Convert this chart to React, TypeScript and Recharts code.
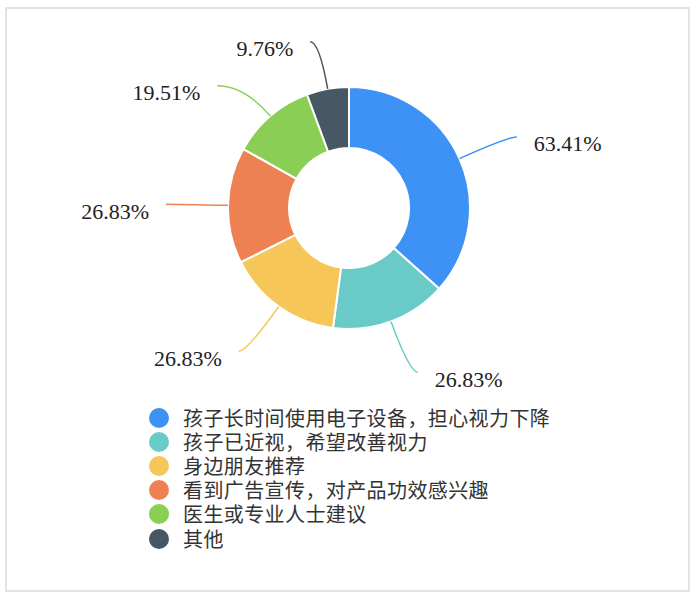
import React from "react"
import { PieChart, Pie, Cell } from "recharts"

const reasons = [
  "孩子长时间使用电子设备，担心视力下降",
  "孩子已近视，希望改善视力",
  "身边朋友推荐",
  "看到广告宣传，对产品功效感兴趣",
  "医生或专业人士建议",
  "其他",
]
const percents = [63.41, 26.83, 26.83, 26.83, 19.51, 9.76]
const colors = ["#3f92f5", "#6acac8", "#f6c758", "#ee8152", "#8bce55", "#475763"]

// label line lengths (radial part, horizontal part)
const lineOut = [53, 54, 55, 53, 40, 48]
const lineSide = [9, 8, 8, 9, 27, 9]

const data = reasons.map((name, i) => ({ name, value: percents[i] }))

const RAD = Math.PI / 180

function renderLabel(props: any) {
  const { cx, cy, midAngle, outerRadius, index, value } = props
  const cos = Math.cos(-midAngle * RAD)
  const sin = Math.sin(-midAngle * RAD)
  const sx = cx + outerRadius * cos
  const sy = cy + outerRadius * sin
  const mx = cx + (outerRadius + lineOut[index]) * cos
  const my = cy + (outerRadius + lineOut[index]) * sin
  const dir = cos >= 0 ? 1 : -1
  const ex = mx + dir * lineSide[index]
  const ey = my
  return (
    <g key={`lbl-${index}`}>
      <path
        d={`M${sx},${sy} Q${mx},${my} ${ex},${ey}`}
        stroke={colors[index]}
        strokeWidth={1.5}
        fill="none"
      />
      <text
        x={ex + dir * 17}
        y={ey + 7}
        textAnchor={dir > 0 ? "start" : "end"}
        dominantBaseline="central"
        fontFamily="'Liberation Serif', 'Times New Roman', serif"
        fontSize={22}
        fill="#222"
      >
        {`${value.toFixed(2)}%`}
      </text>
    </g>
  )
}

function LegendList() {
  return (
    <div
      style={{
        position: "absolute",
        left: 149,
        top: 406,
        fontFamily: "'Noto Sans CJK SC', sans-serif",
        fontSize: 20,
        color: "#333",
      }}
    >
      {reasons.map((name, i) => (
        <div key={name} style={{ display: "flex", alignItems: "center", height: 24.1 }}>
          <span
            style={{
              display: "inline-block",
              width: 20,
              height: 20,
              borderRadius: 10,
              background: colors[i],
              marginRight: 14,
            }}
          />
          <span style={{ lineHeight: "22px", letterSpacing: 0.4 }}>{name}</span>
        </div>
      ))}
    </div>
  )
}

export default function App() {
  return (
    <div style={{ position: "relative", width: 700, height: 602, background: "#fff" }}>
      <style>{`body{margin:0}`}</style>
      <div
        style={{
          position: "absolute",
          left: 5,
          top: 7,
          width: 681,
          height: 581,
          border: "2px solid #e3e3e3",
        }}
      />
      <div style={{ position: "absolute", left: 0, top: 0 }}>
        <PieChart width={700} height={400} margin={{ top: 0, right: 0, bottom: 0, left: 0 }}>
          <Pie
            data={data}
            dataKey="value"
            cx={349}
            cy={208}
            innerRadius={60}
            outerRadius={121}
            startAngle={90}
            endAngle={-270}
            stroke="#fff"
            strokeWidth={2}
            label={renderLabel}
            labelLine={false}
            isAnimationActive={false}
          >
            {data.map((d, i) => (
              <Cell key={d.name} fill={colors[i]} />
            ))}
          </Pie>
        </PieChart>
      </div>
      <LegendList />
    </div>
  )
}
